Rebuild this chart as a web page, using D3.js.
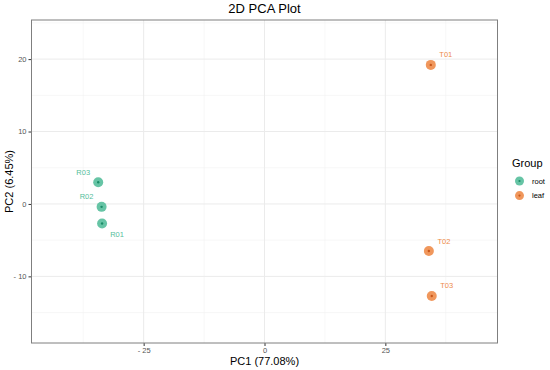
<!DOCTYPE html>
<html>
<head>
<meta charset="utf-8">
<script src="https://cdn.jsdelivr.net/npm/d3@7"></script>
<style>
  body { margin: 0; background: #fff; }
  text { font-family: "Liberation Sans", Arial, sans-serif; }
</style>
</head>
<body>
<div id="chart"></div>
<script>
// sample scores
const samples = ["R01", "R02", "R03", "T01", "T02", "T03"];
const groups = ["root", "root", "root", "leaf", "leaf", "leaf"];
const pc1 = [-33.6, -33.7, -34.4, 34.4, 34.0, 34.6];
const pc2 = [-2.7, -0.4, 3.0, 19.2, -6.5, -12.7];

const groupNames = ["root", "leaf"];
const groupColors = ["#55BE9B", "#EE8C4A"];
const groupDark = ["#1B8C68", "#C9571A"];

const xTicks = [-25, 0, 25];
const yTicks = [-10, 0, 10, 20];

const W = 550, H = 370;
const margin = { top: 20, right: 52.5, bottom: 27, left: 31.5 };

const svg = d3.select("#chart").append("svg")
  .attr("width", W)
  .attr("height", H);

const x = d3.scaleLinear().domain([-48.2, 48.2]).range([margin.left, W - margin.right]);
const y = d3.scaleLinear().domain([-19.2, 25.4]).range([H - margin.bottom, margin.top]);
const color = d3.scaleOrdinal().domain(groupNames).range(groupColors);
const dark = d3.scaleOrdinal().domain(groupNames).range(groupDark);

// grid
const xMinor = [-37.5, -12.5, 12.5, 37.5];
const yMinor = [-15, -5, 5, 15, 25];
const grid = svg.append("g");
xMinor.forEach(v => grid.append("line")
  .attr("x1", x(v)).attr("x2", x(v)).attr("y1", y.range()[0]).attr("y2", y.range()[1])
  .attr("stroke", "#F2F2F2").attr("stroke-width", 0.6));
yMinor.forEach(v => grid.append("line")
  .attr("y1", y(v)).attr("y2", y(v)).attr("x1", x.range()[0]).attr("x2", x.range()[1])
  .attr("stroke", "#F2F2F2").attr("stroke-width", 0.6));
xTicks.forEach(v => grid.append("line")
  .attr("x1", x(v)).attr("x2", x(v)).attr("y1", y.range()[0]).attr("y2", y.range()[1])
  .attr("stroke", "#EBEBEB").attr("stroke-width", 1));
yTicks.forEach(v => grid.append("line")
  .attr("y1", y(v)).attr("y2", y(v)).attr("x1", x.range()[0]).attr("x2", x.range()[1])
  .attr("stroke", "#EBEBEB").attr("stroke-width", 1));

// axes
const fmt = d => d < 0 ? "- " + Math.abs(d) : String(d);
const xAxis = svg.append("g")
  .attr("transform", `translate(0,${H - margin.bottom})`)
  .call(d3.axisBottom(x).tickValues(xTicks).tickSize(3).tickPadding(2).tickFormat(fmt));
const yAxis = svg.append("g")
  .attr("transform", `translate(${margin.left},0)`)
  .call(d3.axisLeft(y).tickValues(yTicks).tickSize(3).tickPadding(2).tickFormat(fmt));
[xAxis, yAxis].forEach(a => {
  a.select(".domain").remove();
  a.selectAll(".tick line").attr("stroke", "#333");
  a.selectAll(".tick text").attr("fill", "#555").style("font-size", "7.5px")
    .style("font-family", "Liberation Sans, Arial, sans-serif");
});

// panel border
svg.append("rect")
  .attr("x", x.range()[0]).attr("y", y.range()[1])
  .attr("width", x.range()[1] - x.range()[0])
  .attr("height", y.range()[0] - y.range()[1])
  .attr("fill", "none").attr("stroke", "#7F7F7F").attr("stroke-width", 1);

// points
const labelOffset = { R01: [15, 11], R02: [-15, -10], R03: [-15, -10] };
samples.forEach((s, i) => {
  const cx = x(pc1[i]), cy = y(pc2[i]);
  svg.append("circle").attr("cx", cx).attr("cy", cy).attr("r", 5)
    .attr("fill", color(groups[i])).attr("opacity", 0.9);
  svg.append("circle").attr("cx", cx).attr("cy", cy).attr("r", 1.2)
    .attr("fill", dark(groups[i]));
  const off = labelOffset[s] || [15, -10];
  svg.append("text")
    .attr("x", cx + off[0]).attr("y", cy + off[1] + 2.5)
    .attr("text-anchor", "middle")
    .attr("fill", color(groups[i]))
    .style("font-size", "7.5px")
    .text(s);
});

// titles
svg.append("text").attr("x", x(0)).attr("y", 13).attr("text-anchor", "middle")
  .attr("fill", "#000").style("font-size", "13px").text("2D PCA Plot");
svg.append("text").attr("x", x(0)).attr("y", 365).attr("text-anchor", "middle")
  .attr("fill", "#000").style("font-size", "11px").text("PC1 (77.08%)");
svg.append("text")
  .attr("transform", `translate(13,${(y.range()[0] + y.range()[1]) / 2}) rotate(-90)`)
  .attr("text-anchor", "middle").attr("fill", "#000").style("font-size", "11px")
  .text("PC2 (6.45%)");

// legend
const legend = svg.append("g").attr("transform", "translate(512,0)");
legend.append("text").attr("x", 0).attr("y", 167).style("font-size", "11px").text("Group");
groupNames.forEach((g, i) => {
  const ly = 181 + i * 14.6;
  legend.append("circle").attr("cx", 7.5).attr("cy", ly).attr("r", 4.5)
    .attr("fill", groupColors[i]).attr("opacity", 0.9);
  legend.append("circle").attr("cx", 7.5).attr("cy", ly).attr("r", 1.1)
    .attr("fill", groupDark[i]);
  legend.append("text").attr("x", 20).attr("y", ly + 2.7).style("font-size", "7.5px")
    .attr("fill", "#000").text(g);
});
</script>
</body>
</html>
